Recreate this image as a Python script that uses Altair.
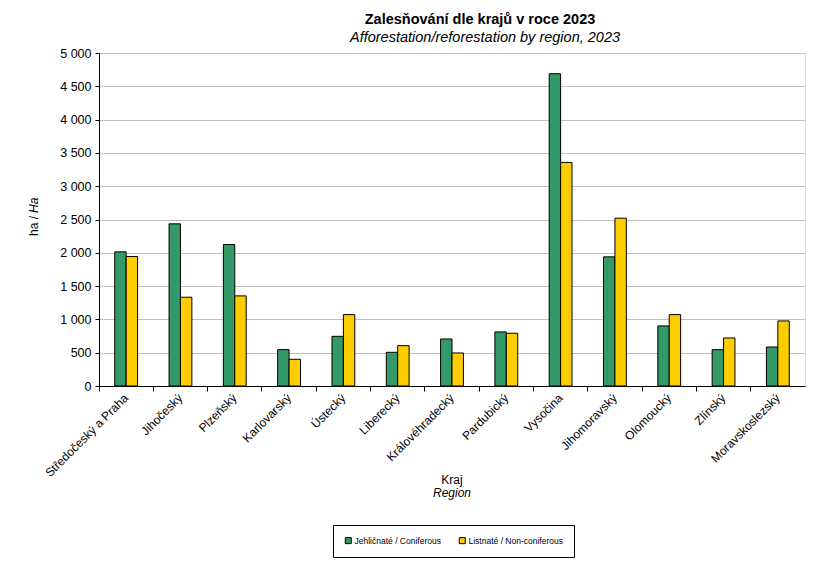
import altair as alt
import pandas as pd

kraje = ["Středočeský a Praha", "Jihočeský", "Plzeňský", "Karlovarský", "Ústecký",
         "Liberecký", "Královéhradecký", "Pardubický", "Vysočina", "Jihomoravský",
         "Olomoucký", "Zlínský", "Moravskoslezský"]
jehlicnate = [2014, 2435, 2124, 546, 746, 506, 706, 812, 4689, 1939, 902, 546, 586]
listnate = [1944, 1333, 1353, 401, 1072, 606, 496, 792, 3357, 2520, 1072, 721, 977]
serie = ["Jehličnaté / Coniferous", "Listnaté / Non-coniferous"]
barvy = ["#339966", "#FFCC00"]
y_ticks = [0, 500, 1000, 1500, 2000, 2500, 3000, 3500, 4000, 4500, 5000]

rows = []
for k, a, b in zip(kraje, jehlicnate, listnate):
    rows.append({"Kraj": k, "Typ": serie[0], "Hodnota": a})
    rows.append({"Kraj": k, "Typ": serie[1], "Hodnota": b})
df = pd.DataFrame(rows)

FONT = "Liberation Sans"
W, H = 706, 333
L, T = 91, 45

xscale = alt.Scale(domain=kraje, paddingInner=0, paddingOuter=0)
# empty slots on both sides of each bar pair give the gap between categories
offset_domain = ["_l"] + serie + ["_r"]

bars = alt.Chart(df).mark_bar(stroke="black", strokeWidth=1).encode(
    x=alt.X("Kraj:N", sort=kraje, scale=xscale,
            axis=alt.Axis(title=None, labels=False, ticks=True, tickSize=5,
                          tickColor="black", tickWidth=1, bandPosition=0,
                          grid=False, domainColor="black")),
    xOffset=alt.XOffset("Typ:N",
                        scale=alt.Scale(domain=offset_domain, paddingInner=0, paddingOuter=0.38)),
    y=alt.Y("Hodnota:Q", scale=alt.Scale(domain=[0, 5000], nice=False),
            axis=alt.Axis(title=None, values=y_ticks, grid=True, gridColor="#c0c0c0",
                          domainColor="black", tickColor="black", tickSize=4,
                          labelFont=FONT, labelFontSize=12.5, labelColor="#000",
                          labelPadding=4,
                          labelExpr="replace(format(datum.value, ','), ',', ' ')")),
    fill=alt.Fill("Typ:N", sort=serie, scale=alt.Scale(domain=serie, range=barvy),
                  legend=alt.Legend(title=None, orient="none", legendX=333 - 8 - L, legendY=472,
                                    direction="horizontal", strokeColor="black",
                                    fillColor="white", padding=11, labelFont=FONT,
                                    labelFontSize=8.5, labelColor="#000",
                                    symbolType="square", symbolSize=36,
                                    symbolStrokeColor="black", symbolStrokeWidth=1,
                                    columnPadding=16, labelOffset=2)),
)

xlabels = alt.Chart(pd.DataFrame({"Kraj": kraje})).mark_text(
    font=FONT, fontSize=12, color="#000", angle=315, align="right", baseline="middle"
).encode(
    x=alt.X("Kraj:N", sort=kraje, scale=xscale),
    y=alt.value(H + 10),
    text="Kraj:N",
)

def txt(t, x, y, **kw):
    return alt.Chart(pd.DataFrame({"t": [t]})).mark_text(font=FONT, color="#000", **kw).encode(
        text="t:N", x=alt.value(x), y=alt.value(y))

title = txt("Zalesňování dle krajů v roce 2023", 480 - 8 - L, 20 - 8 - T, fontSize=14.5, fontWeight="bold")
subtitle = txt("Afforestation/reforestation by region, 2023", 485 - 8 - L, 38 - 8 - T, fontSize=14.5, fontStyle="italic")
kraj = txt("Kraj", 452 - 8 - L, 480 - 8 - T, fontSize=12)
region = txt("Region", 452 - 8 - L, 493 - 8 - T, fontSize=12, fontStyle="italic")
ha1 = txt("ha /", 34 - 8 - L, 216 - 8 - T, fontSize=12, angle=270, align="right", baseline="middle")
ha2 = txt("Ha", 34 - 8 - L, 213 - 8 - T, fontSize=12, angle=270, align="left", baseline="middle", fontStyle="italic")

chart = alt.layer(bars, xlabels, title, subtitle, kraj, region, ha1, ha2).properties(
    width=W, height=H,
    autosize=alt.AutoSizeParams(type="none"),
    padding={"left": L, "top": T, "right": 20, "bottom": 175},
).configure_view(stroke="#808080", strokeWidth=1).configure(background="white")

chart.save("out.html", embed_options={"renderer": "svg", "actions": False})
